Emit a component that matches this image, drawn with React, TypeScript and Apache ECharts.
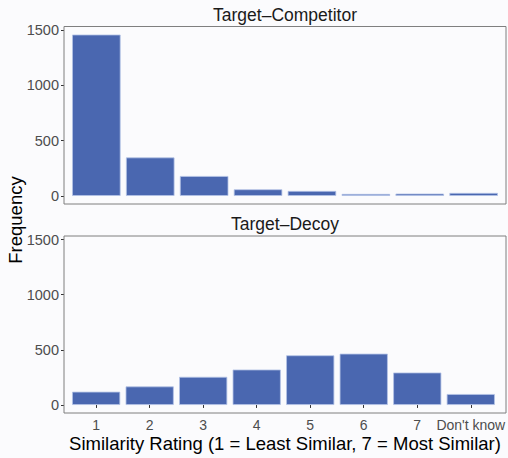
import React, { useEffect, useRef } from "react";
import * as echarts from "echarts";

const categories = ["1", "2", "3", "4", "5", "6", "7", "Don't know"];
const competitorValues = [1459, 348, 180, 60, 45, 18, 21, 27];
const decoyValues = [120, 168, 255, 321, 450, 465, 294, 99];
const yTicks = [0, 500, 1000, 1500];
const panelTitles = ["Target\u2013Competitor", "Target\u2013Decoy"];
const xTitle = "Similarity Rating (1 = Least Similar, 7 = Most Similar)";
const yTitle = "Frequency";

const FONT = "'Liberation Sans', Arial, Helvetica, sans-serif";

export default function App() {
  const ref = useRef<HTMLDivElement>(null);
  useEffect(() => {
    if (!ref.current) return;
    const chart = echarts.init(ref.current, undefined, { renderer: "svg" });
    const panelLeft = 64;
    const panelRight = 506;
    const panelW = panelRight - panelLeft;
    const unit = panelW / 8.2;
    const gridLeft = panelLeft + 0.1 * unit;
    const gridW = unit * 8;
    const panels = [
      { top: 26.5, height: 177.5 },
      { top: 236, height: 177 },
    ];
    const yMin = -73;
    const yMax = 1532;
    const barColor = "#4a67b0";

    const grids = panels.map((p) => ({
      left: gridLeft,
      width: gridW,
      top: p.top,
      height: p.height,
      show: false,
    }));

    const xAxes = panels.map((_, i) => ({
      type: "category" as const,
      gridIndex: i,
      data: categories,
      boundaryGap: true,
      axisLine: { show: false },
      axisTick: {
        show: i === 1,
        alignWithLabel: true,
        length: 3,
        lineStyle: { color: "#333333" },
      },
      axisLabel: {
        show: i === 1,
        color: "#4d4d4d",
        fontSize: 14,
        fontFamily: FONT,
        margin: 5,
        interval: 0,
      },
    }));

    const yAxes = panels.map((_, i) => ({
      type: "value" as const,
      gridIndex: i,
      min: yMin,
      max: yMax,
      offset: gridLeft - panelLeft,
      axisLine: { show: false },
      splitLine: { show: false },
      axisTick: {
        show: true,
        length: 3,
        lineStyle: { color: "#333333" },
        customValues: yTicks,
      },
      axisLabel: {
        color: "#4d4d4d",
        fontSize: 14.5,
        fontFamily: FONT,
        margin: 5,
        customValues: yTicks,
        formatter: (v: number) => String(v),
      },
    }));

    const seriesData = [competitorValues, decoyValues];
    const series = seriesData.map((vals, i) => ({
      type: "bar" as const,
      xAxisIndex: i,
      yAxisIndex: i,
      data: vals,
      barCategoryGap: "10%",
      itemStyle: { color: barColor, borderColor: "#b4c3e6", borderWidth: 0.8 },
    }));

    const graphics: any[] = [];
    panels.forEach((p, i) => {
      graphics.push({
        type: "rect",
        shape: { x: panelLeft, y: p.top, width: panelW, height: p.height },
        style: { fill: "none", stroke: "#7f7f7f", lineWidth: 1 },
        z: 10,
      });
      graphics.push({
        type: "text",
        x: panelLeft + panelW / 2,
        y: p.top - 12,
        style: {
          text: panelTitles[i],
          fill: "#1a1a1a",
          font: `17.5px ${FONT}`,
          align: "center",
          verticalAlign: "middle",
        },
      });
    });
    graphics.push({
      type: "text",
      x: panelLeft + panelW / 2,
      y: 443,
      style: {
        text: xTitle,
        fill: "#000000",
        font: `18.5px ${FONT}`,
        align: "center",
        verticalAlign: "middle",
      },
    });
    graphics.push({
      type: "text",
      x: 15,
      y: 220,
      rotation: Math.PI / 2,
      style: {
        text: yTitle,
        fill: "#000000",
        font: `18.5px ${FONT}`,
        align: "center",
        verticalAlign: "middle",
      },
    });

    chart.setOption({
      animation: false,
      backgroundColor: "#fbfbfd",
      grid: grids,
      xAxis: xAxes,
      yAxis: yAxes,
      series,
      graphic: graphics,
    });
    return () => chart.dispose();
  }, []);
  return (
    <div
      ref={ref}
      style={{ position: "absolute", left: 0, top: 0, width: 508, height: 458 }}
    />
  );
}
